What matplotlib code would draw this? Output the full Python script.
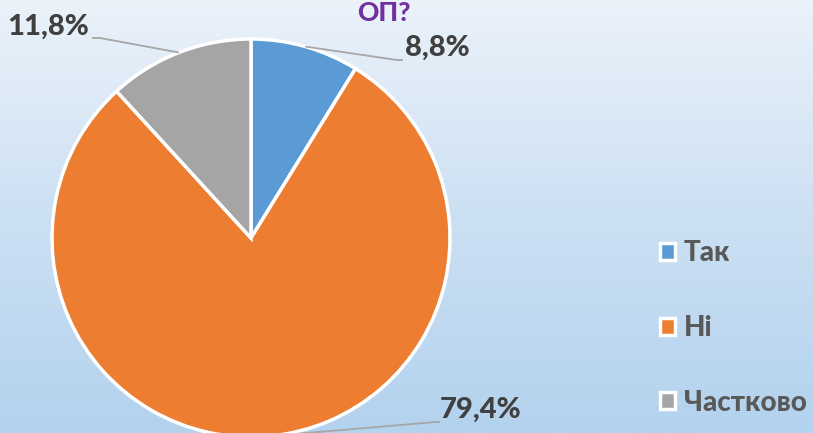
import numpy as np
import matplotlib
matplotlib.use("Agg")
import matplotlib.pyplot as plt
from matplotlib.colors import LinearSegmentedColormap

categories = ["Так", "Ні", "Частково"]
values = [8.8, 79.4, 11.8]
value_labels = ["8,8%", "79,4%", "11,8%"]
colors = ["#5B9BD5", "#ED7D31", "#A5A5A5"]
title = "ОП?"

W, H = 813, 433
fig = plt.figure(figsize=(W / 100, H / 100), dpi=100)

# gradient background
bg = fig.add_axes([0, 0, 1, 1])
cmap = LinearSegmentedColormap.from_list("bg", ["#B3D2EE", "#CCE0F3", "#EBF2FA"])
grad = np.linspace(0, 1, 256).reshape(-1, 1)
bg.imshow(grad, aspect="auto", cmap=cmap, origin="lower", extent=[0, 1, 0, 1])
bg.set_axis_off()

ax = fig.add_axes([0, 0, 1, 1])
ax.patch.set_alpha(0)
font = ["Lato", "DejaVu Sans"]
WT = 900

cx, cy, R = 251, 195, 199
wedges, _ = ax.pie(values, colors=colors, startangle=90, counterclock=False,
                   center=(cx, cy), radius=R,
                   wedgeprops=dict(edgecolor="white", linewidth=2.5))
ax.set_xlim(0, W)
ax.set_ylim(0, H)
ax.set_aspect("auto")
ax.set_axis_off()

# data labels with leader lines
label_pos = {
    0: dict(elbow=(397, 373), end=(403, 373), text=(405, 385), ha="left"),
    1: dict(elbow=(436, 11), end=(440, 11), text=(440, 23), ha="left"),
    2: dict(elbow=(100, 395), end=(92, 395), text=(89, 406), ha="right"),
}
for i, w in enumerate(wedges):
    ang = np.deg2rad((w.theta1 + w.theta2) / 2)
    ax_, ay_ = cx + R * np.cos(ang), cy + R * np.sin(ang)
    p = label_pos[i]
    ax.plot([ax_, p["elbow"][0], p["end"][0]], [ay_, p["elbow"][1], p["end"][1]],
            color="#A6A6A6", lw=1.3, solid_capstyle="butt", clip_on=False, zorder=1)
    ax.text(p["text"][0], p["text"][1], value_labels[i], ha=p["ha"], va="center",
            fontsize=21, fontweight=WT, color="#404040", family=font)

ax.text(384, 420, title, ha="center", va="center", fontsize=19, fontweight=WT,
        color="#7030A0", family=font)

leg = ax.legend(wedges, categories, loc="center left", bbox_to_anchor=(635, 105),
                bbox_transform=ax.transData, frameon=False, handlelength=0.55,
                handleheight=0.55, handletextpad=0.3, labelspacing=1.75,
                prop=dict(family=font, size=20, weight=WT))
for t in leg.get_texts():
    t.set_color("#595959")

fig.savefig("out.png", dpi=100)
